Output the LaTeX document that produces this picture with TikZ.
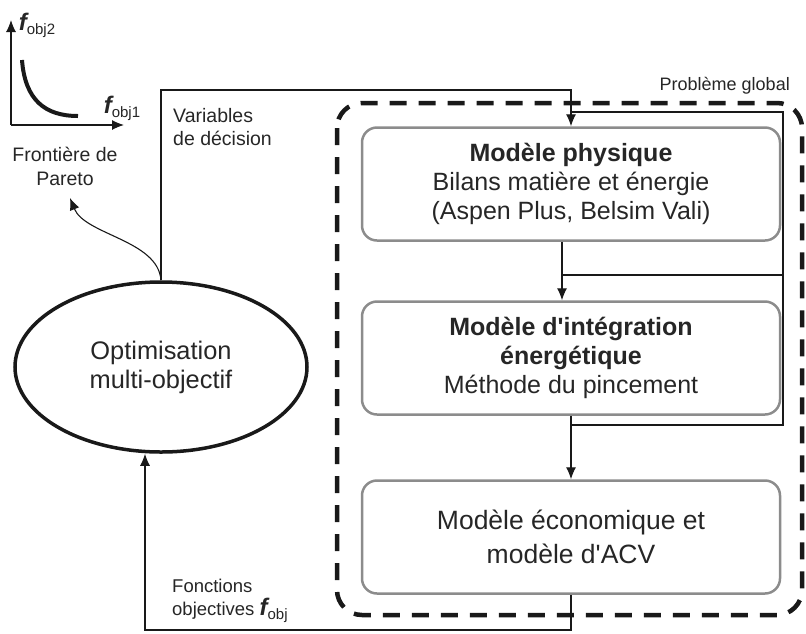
\documentclass[tikz,border=0pt]{standalone}
\usepackage{fontspec}
\setmainfont{Liberation Sans}
\usetikzlibrary{arrows.meta, shapes.geometric}

\newcommand{\fobj}[1]{{\fontsize{24}{24}\selectfont\bfseries\itshape f}\raisebox{-4pt}{\fontsize{15}{15}\selectfont obj#1}}

\tikzset{
	modele/.style = {draw=black!45, line width=2.5pt, rounded corners=15pt,
		minimum width=418pt, minimum height=113pt, align=center,
		text=black!85, font=\fontsize{25}{29}\selectfont},
	objectif/.style = {ellipse, draw=black!90, line width=3.5pt,
		minimum width=292pt, minimum height=170pt, align=center,
		text=black!85, font=\fontsize{25.4}{29}\selectfont},
	etiquette/.style = {inner sep=0pt, align=left, text=black!85,
		font=\fontsize{18.5}{23}\selectfont},
	fleche/.style = {-{Latex[length=12pt, width=10pt]}, line width=1.1pt, black!90},
	trait/.style = {line width=1.1pt, black!90},
	pointille/.style = {line width=4.5pt, black!90, dash pattern=on 17pt off 12pt,
		rounded corners=25pt}
}

\begin{document}
\begin{tikzpicture}[x=1pt, y=-1pt]
		\useasboundingbox (0,0) rectangle (806,633);
		
		% cadre du probleme global
		\draw [pointille] (337,103) rectangle (802,615);
		\node [etiquette, anchor=base east, font=\fontsize{18}{23}\selectfont] (global) at (790,90) {Problème global};
		
		% modeles
		\node [modele] (phys) at (571,184) {\textbf{Modèle physique}\\Bilans matière et énergie\\(Aspen Plus, Belsim Vali)};
		\node [modele] (integ) at (571,358) {\textbf{Modèle d\textquotesingle intégration}\\\textbf{énergétique}\\Méthode du pincement};
		\node [modele, font=\fontsize{26.5}{34}\selectfont] (eco) at (571,537) {Modèle économique et\\modèle d\textquotesingle ACV};
		
		\node [objectif] (opt) at (161,367) {Optimisation\\multi-objectif};
		
		% front de Pareto
		\coordinate (origine) at (11,125);
		\coordinate (axe y) at (11,20);
		\coordinate (axe x) at (124,125);
		\draw [fleche] (origine) -- (axe y);
		\draw [fleche] (origine) -- (axe x);
		\draw [line width=4pt, black!90] (22,60) .. controls (25,100) and (45,116) .. (78,116);
		\node [inner sep=0pt, text=black!85] (f2) at (37,25) {\fobj{2}};
		\node [inner sep=0pt, text=black!85] (f1) at (122,108) {\fobj{1}};
		\node [etiquette, align=center, font=\fontsize{19.5}{24}\selectfont] (pareto) at (65,166) {Frontière de\\Pareto};
		\coordinate (vers pareto) at (70,198);
		\draw [fleche] (opt.north) .. controls (158,240) and (85,235) .. (vers pareto);
		
		% variables de decision
		\node [etiquette, anchor=north west, font=\fontsize{19.5}{23}\selectfont] (var) at (173,108) {Variables\\de décision};
		\coordinate (dv) at (phys.north |- 0,90);
		\draw [fleche] (opt.north) |- (dv) -- (phys.north);
		
		% bouclage interne
		\coordinate (boucle haut) at (783,112);
		\coordinate (boucle bas) at (783,425);
		\coordinate (sortie phys) at ([xshift=-9pt]phys.south);
		\draw [trait] (phys.north |- boucle haut) -- (boucle haut) -- (boucle bas) -- (integ.south |- boucle bas);
		\draw [trait] (boucle haut |- 0,275) -- (sortie phys |- 0,275);
		\draw [fleche] (sortie phys) -- (sortie phys |- integ.north);
		\draw [fleche] (integ.south) -- (eco.north);
		
		% fonctions objectives
		\node [etiquette, anchor=north west] (fct) at (172,579) {Fonctions\\objectives \fobj{}};
		\coordinate (retour) at (145,630);
		\draw [fleche] (eco.south) |- (retour) -- (retour |- opt.south);
	\end{tikzpicture}
\end{document}
